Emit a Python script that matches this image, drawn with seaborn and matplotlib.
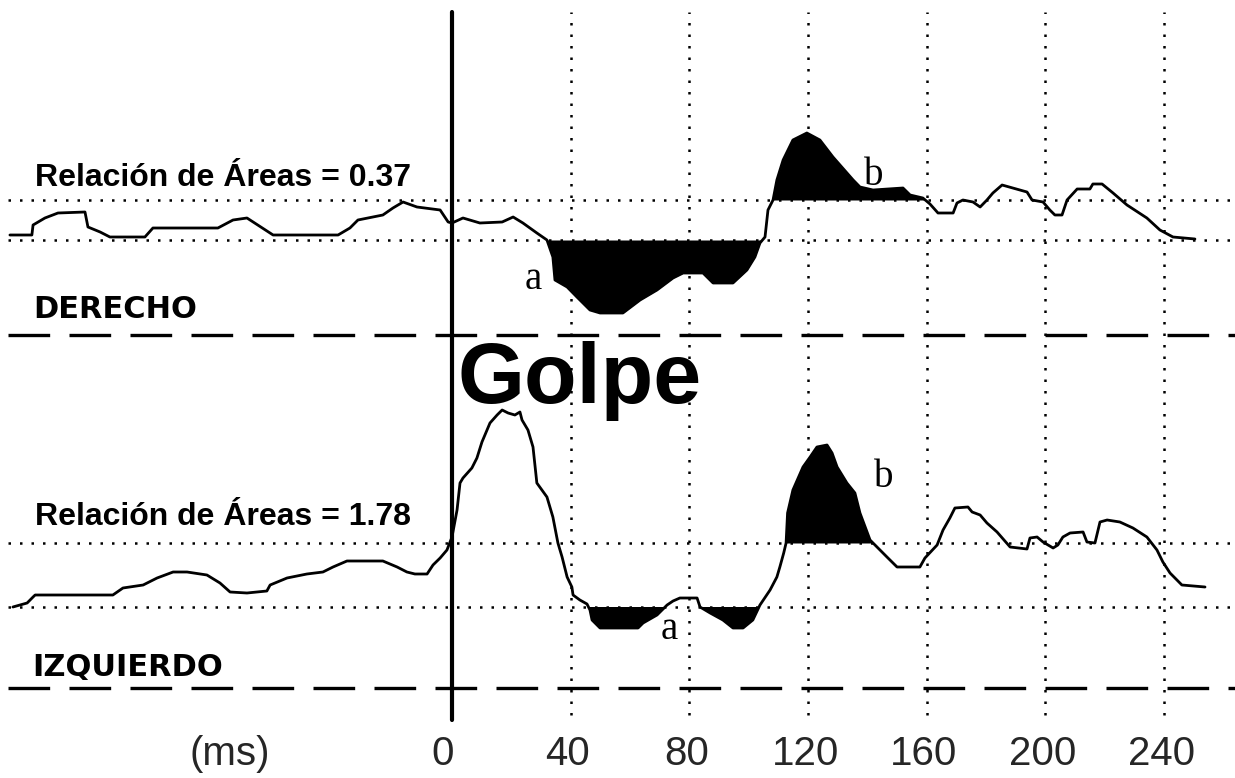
import numpy as np
import matplotlib
matplotlib.use("Agg")
import matplotlib.pyplot as plt
import seaborn as sns

# ---------------- data (time in ms, amplitude in arbitrary units) ----------------
derecho_t = [-149.0, -141.6, -141.2, -137.2, -132.8, -123.7, -122.7, -118.6, -115.3, -103.5,
             -100.8, -78.9, -73.8, -69.1, -60.3, -38.4, -34.4, -31.7, -23.3, -19.9,
             -16.5, -11.8, -4.0, -1.3, 0.0, 3.7, 9.4, 16.9, 20.6, 23.9,
             28.6, 32.0, 34.0, 34.7, 38.8, 42.1, 46.5, 49.9, 57.6, 63.4,
             69.1, 74.5, 77.9, 84.6, 88.0, 94.7, 99.4, 102.1, 103.8, 105.5,
             106.5, 108.2, 109.5, 111.6, 114.9, 119.6, 124.0, 128.4, 135.2, 137.5,
             141.9, 152.0, 154.4, 158.7, 161.1, 163.8, 168.9, 170.2, 172.2, 175.6,
             178.0, 180.3, 182.3, 185.4, 193.8, 195.5, 199.2, 201.5, 203.2, 205.6,
             207.3, 210.7, 215.0, 216.0, 219.1, 222.8, 227.5, 234.2, 238.6, 243.0, 250.4]
derecho_amp = [5, 5, 15, 22, 27, 28, 13, 8, 3, 3,
               12, 12, 20, 22, 5, 5, 12, 20, 25, 32,
               38, 33, 30, 18, 17, 22, 17, 18, 23, 17,
               7, 0, -17, -40, -47, -57, -70, -73, -73, -60,
               -50, -38, -33, -33, -43, -43, -30, -17, -3, 3,
               30, 40, 60, 80, 100, 107, 100, 83, 60, 53,
               50, 52, 45, 42, 36, 27, 27, 37, 40, 38,
               33, 40, 47, 55, 48, 40, 38, 30, 25, 25,
               40, 51, 51, 56, 56, 47, 35, 22, 10, 3, 1]

izquierdo_t = [-148.0, -143.2, -141.2, -140.5, -114.3, -110.9, -104.1, -99.4, -94.0, -89.3,
               -82.6, -78.2, -74.8, -69.1, -62.4, -61.3, -55.6, -48.9, -43.5, -40.1,
               -35.4, -23.3, -18.5, -15.2, -12.5, -8.4, -6.4, -4.0, -1.7, 0.0,
               1.7, 2.7, 3.7, 6.7, 8.4, 10.1, 12.8, 15.2, 16.9, 18.9,
               21.2, 22.9, 23.6, 25.6, 27.3, 28.6, 32.0, 34.0, 35.7, 37.1,
               38.8, 40.4, 40.8, 43.1, 45.5, 46.5, 47.2, 49.9, 62.7, 64.4,
               69.1, 72.5, 74.5, 76.8, 82.6, 83.6, 87.0, 91.3, 94.7, 98.1,
               101.4, 103.8, 107.2, 109.5, 110.5, 111.8, 112.6, 113.1, 114.9, 118.3,
               120.7, 123.0, 126.4, 128.1, 129.8, 133.1, 135.8, 137.5, 140.9, 141.9,
               146.6, 150.0, 157.7, 159.4, 163.5, 165.5, 167.8, 169.5, 173.9, 175.3,
               178.0, 180.3, 183.7, 188.1, 193.8, 194.8, 197.2, 199.2, 202.6, 204.2,
               205.9, 208.3, 212.7, 214.0, 216.7, 218.4, 220.8, 225.1, 229.5, 234.2,
               237.6, 239.6, 242.0, 246.0, 253.8]
izquierdo_amp = [0, 4, 10, 12, 12, 19, 22, 29, 35, 35,
                 32, 24, 15, 14, 16, 22, 29, 33, 35, 40,
                 46, 46, 40, 35, 33, 33, 42, 49, 57, 70,
                 97, 124, 129, 139, 149, 165, 184, 192, 197, 194,
                 192, 195, 187, 177, 160, 124, 110, 90, 64, 50,
                 30, 20, 12, 7, 3, -3, -13, -21, -21, -16,
                 -8, 2, 6, 9, 9, 0, -6, -13, -21, -21,
                 -13, 2, 17, 30, 40, 54, 64, 94, 117, 140,
                 150, 160, 162, 154, 140, 124, 114, 94, 67, 64,
                 50, 40, 40, 49, 62, 77, 89, 99, 100, 95,
                 92, 84, 75, 60, 58, 69, 70, 65, 59, 62,
                 70, 74, 75, 65, 64, 85, 87, 85, 79, 70,
                 57, 45, 34, 22, 20]

tick_values = [0, 40, 80, 120, 160, 200, 240]
tick_labels = ["0", "40", "80", "120", "160", "200", "240"]
ratio_derecho = "0.37"
ratio_izquierdo = "1.78"

# reference levels (lower / upper) of each trace
derecho_levels = [0, 40]
izquierdo_levels = [0, 64]

# ---------------- layout ----------------
W, H = 1235, 778
PX_PER_MS = 2.967
X0_PX = 452.0
DER_OFF = H - 240      # vertical position of Derecho lower reference
IZQ_OFF = H - 607      # vertical position of Izquierdo lower reference

sns.set_style("white")
plt.rcParams['font.family'] = ['Liberation Sans', 'DejaVu Sans']

fig = plt.figure(figsize=(W / 100, H / 100), dpi=100)
ax = fig.add_axes([0, 0, 1, 1])
ax.set_xlim(-X0_PX / PX_PER_MS, (W - X0_PX) / PX_PER_MS)
ax.set_ylim(0, H)
ax.axis("off")

def yfr(py):
    return H - py

x_left = (8 - X0_PX) / PX_PER_MS
x_right = (W - X0_PX) / PX_PER_MS

dot_style = (0, (1, 3.6))
# horizontal dotted reference lines
for off, levels in ((DER_OFF, derecho_levels), (IZQ_OFF, izquierdo_levels)):
    for lv in levels:
        ax.plot([x_left, x_right], [off + lv, off + lv], color="black", lw=1.8,
                linestyle=dot_style, zorder=1)

# vertical dotted grid
for tv in tick_values[1:]:
    ax.plot([tv, tv], [yfr(715), yfr(12)], color="black", lw=1.8,
            linestyle=dot_style, zorder=1)

# dashed separators
for py in (335, 688):
    ax.plot([x_left, x_right], [yfr(py), yfr(py)], color="black", lw=2.4,
            linestyle=(0, (12.5, 5.8)), zorder=1)

# stimulus line at 0 ms
ax.plot([0, 0], [yfr(720), yfr(12)], color="black", lw=3.0, zorder=3)

# traces
dt = np.array(derecho_t); da = np.array(derecho_amp)
it = np.array(izquierdo_t); ia = np.array(izquierdo_amp)

sns.lineplot(x=dt, y=DER_OFF + da, ax=ax, color="black", lw=2.0,
             estimator=None, sort=False, zorder=4)
sns.lineplot(x=it, y=IZQ_OFF + ia, ax=ax, color="black", lw=2.0,
             estimator=None, sort=False, zorder=4)

# filled areas a and b
ax.fill_between(dt, DER_OFF + da, DER_OFF + derecho_levels[0],
                where=(da < derecho_levels[0]) & (dt > 25) & (dt < 106),
                interpolate=True, color="black", lw=0, zorder=2)
ax.fill_between(dt, DER_OFF + da, DER_OFF + derecho_levels[1],
                where=(da > derecho_levels[1]) & (dt > 105) & (dt < 160),
                interpolate=True, color="black", lw=0, zorder=2)
ax.fill_between(it, IZQ_OFF + ia, IZQ_OFF + izquierdo_levels[0],
                where=(ia < izquierdo_levels[0]) & (it > 44) & (it < 105),
                interpolate=True, color="black", lw=0, zorder=2)
ax.fill_between(it, IZQ_OFF + ia, IZQ_OFF + izquierdo_levels[1],
                where=(ia > izquierdo_levels[1]) & (it > 110) & (it < 145),
                interpolate=True, color="black", lw=0, zorder=2)

def ms(px):
    return (px - X0_PX) / PX_PER_MS

# texts
ax.text(ms(35), yfr(186), "Relación de Áreas = " + ratio_derecho, fontsize=23,
        fontweight="bold", ha="left", va="baseline", color="black")
ax.text(ms(35), yfr(525), "Relación de Áreas = " + ratio_izquierdo, fontsize=23,
        fontweight="bold", ha="left", va="baseline", color="black")
ax.text(ms(33), yfr(318), "DERECHO", fontsize=22, fontweight="heavy",
        family=["DejaVu Sans"], ha="left", va="baseline", color="black")
ax.text(ms(32), yfr(676), "IZQUIERDO", fontsize=22, fontweight="heavy",
        family=["DejaVu Sans"], ha="left", va="baseline", color="black")
ax.text(ms(458), yfr(403), "Golpe", fontsize=62, fontweight="bold",
        ha="left", va="baseline", color="black", zorder=5)

serif = ["Liberation Serif", "DejaVu Serif"]
for (px, py, s) in ((533, 289, "a"), (874, 185, "b"), (669, 639, "a"), (884, 487, "b")):
    ax.text(ms(px), yfr(py), s, fontsize=28, family=serif, ha="center",
            va="baseline", color="black", zorder=5)

# axis labels at the bottom
for tv, tl in zip(tick_values, tick_labels):
    if tv == 0:
        ax.text(ms(454), yfr(765), tl, fontsize=29, ha="right", va="baseline")
    else:
        ax.text(tv - 1.0, yfr(765), tl, fontsize=29, ha="center", va="baseline")
ax.text(ms(230), yfr(765), "(ms)", fontsize=29, ha="center", va="baseline")

fig.savefig("out.png", dpi=100, facecolor="white")
